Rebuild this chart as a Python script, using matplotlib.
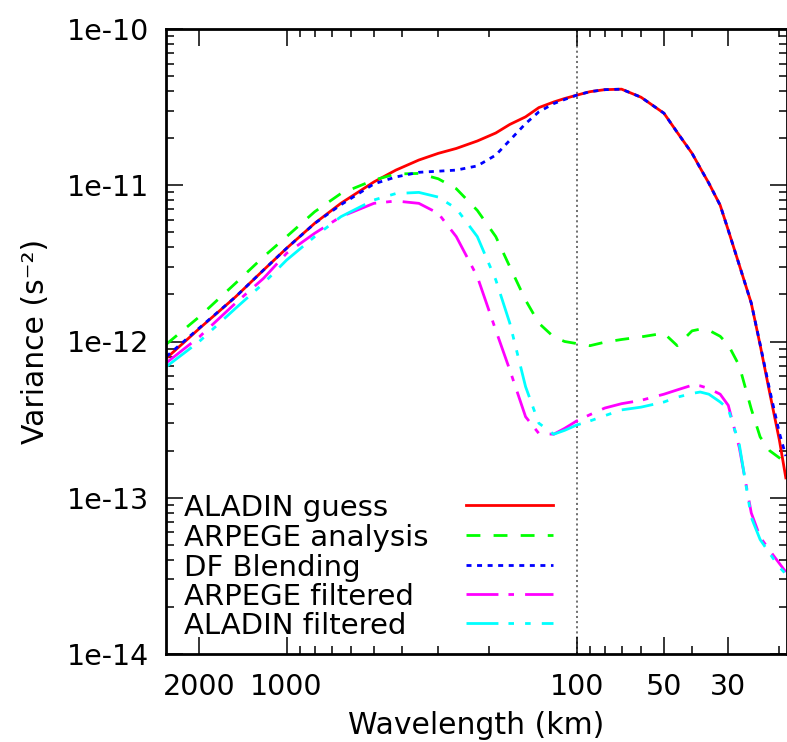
import matplotlib
matplotlib.use("Agg")
import matplotlib.pyplot as plt
from matplotlib.ticker import FixedLocator, FixedFormatter, LogLocator, NullFormatter

plt.rcParams['font.family'] = ['DejaVu Sans']
plt.rcParams['mathtext.default'] = 'regular'
plt.rcParams['lines.scale_dashes'] = False

# ---------------- data ----------------
wavelength = [2600, 2000, 1500, 1200, 1000, 800, 650, 500, 420, 350, 300, 260, 220,
              190, 170, 150, 135, 120, 110, 100, 90, 80, 70, 60, 50, 45, 40, 37.5,
              35, 32, 30, 27.5, 25, 23.3, 21.6, 20, 19]

aladin_guess = [7.8e-13, 1.21e-12, 1.93e-12, 2.87e-12, 3.95e-12, 5.71e-12, 7.66e-12,
                1.05e-11, 1.25e-11, 1.45e-11, 1.6e-11, 1.72e-11, 1.92e-11, 2.16e-11,
                2.45e-11, 2.74e-11, 3.14e-11, 3.41e-11, 3.59e-11, 3.77e-11, 3.97e-11,
                4.09e-11, 4.12e-11, 3.66e-11, 2.89e-11, 2.18e-11, 1.6e-11, 1.29e-11,
                1.03e-11, 7.45e-12, 5.15e-12, 3.09e-12, 1.76e-12, 9.5e-13, 4.7e-13,
                2.34e-13, 1.34e-13]

arpege_analysis = [9.6e-13, 1.44e-12, 2.36e-12, 3.49e-12, 4.69e-12, 6.77e-12, 8.85e-12,
                   1.08e-11, 1.18e-11, 1.19e-11, 1.1e-11, 9.5e-12, 6.9e-12, 4.69e-12,
                   3.01e-12, 1.84e-12, 1.31e-12, 1.07e-12, 1.0e-12, 9.7e-13, 9.4e-13,
                   9.9e-13, 1.03e-12, 1.07e-12, 1.13e-12, 9.4e-13, 1.17e-12, 1.2e-12,
                   1.18e-12, 1.08e-12, 9.5e-13, 7.0e-13, 3.7e-13, 2.45e-13, 2.0e-13,
                   1.8e-13, 1.67e-13]

df_blending = [8.0e-13, 1.22e-12, 1.93e-12, 2.87e-12, 3.95e-12, 5.7e-12, 7.5e-12,
               1.02e-11, 1.13e-11, 1.21e-11, 1.23e-11, 1.25e-11, 1.33e-11, 1.56e-11,
               1.94e-11, 2.48e-11, 2.95e-11, 3.33e-11, 3.54e-11, 3.77e-11, 3.97e-11,
               4.09e-11, 4.12e-11, 3.66e-11, 2.89e-11, 2.18e-11, 1.6e-11, 1.29e-11,
               1.03e-11, 7.45e-12, 5.15e-12, 3.09e-12, 1.76e-12, 9.6e-13, 4.9e-13,
               2.6e-13, 1.85e-13]

arpege_filtered = [7.3e-13, 1.07e-12, 1.76e-12, 2.54e-12, 3.67e-12, 4.93e-12, 6.29e-12,
                   7.66e-12, 7.93e-12, 7.66e-12, 6.61e-12, 4.69e-12, 2.6e-12, 1.18e-12,
                   6.57e-13, 3.3e-13, 2.58e-13, 2.55e-13, 2.78e-13, 3.1e-13, 3.4e-13,
                   3.75e-13, 4.0e-13, 4.2e-13, 4.6e-13, 4.9e-13, 5.25e-13, 5.2e-13,
                   5.0e-13, 4.6e-13, 3.9e-13, 2.1e-13, 8.0e-14, 5.6e-14, 4.6e-14,
                   3.8e-14, 3.35e-14]

aladin_filtered = [6.9e-13, 1.0e-12, 1.63e-12, 2.36e-12, 3.32e-12, 4.69e-12, 6.29e-12,
                   8.05e-12, 8.85e-12, 9.0e-12, 8.4e-12, 7.1e-12, 4.69e-12, 2.48e-12,
                   1.31e-12, 5.14e-13, 3.0e-13, 2.55e-13, 2.7e-13, 2.92e-13, 3.1e-13,
                   3.35e-13, 3.65e-13, 3.8e-13, 4.1e-13, 4.4e-13, 4.65e-13, 4.75e-13,
                   4.6e-13, 4.1e-13, 3.7e-13, 2.2e-13, 7.5e-14, 5.4e-14, 4.4e-14,
                   3.6e-14, 3.25e-14]

series_labels = ["ALADIN guess", "ARPEGE analysis", "DF Blending",
                 "ARPEGE filtered", "ALADIN filtered"]
xtick_values = [2000, 1000, 100, 50, 30]
xtick_labels = ["2000", "1000", "100", "50", "30"]
ytick_values = [1e-14, 1e-13, 1e-12, 1e-11, 1e-10]
ytick_labels = ["1e-14", "1e-13", "1e-12", "1e-11", "1e-10"]
ref_wavelength = 100

# ---------------- styles ----------------
styles = [
    dict(color="#ff0000", linestyle="-"),
    dict(color="#00ff00", linestyle=(0, (10, 9.5))),
    dict(color="#0000ff", linestyle=(0, (3.6, 4.0))),
    dict(color="#ff00ff", linestyle=(0, (23, 7.2, 4, 8))),
    dict(color="#00ffff", linestyle=(0, (23, 7.2, 4, 8, 4, 8))),
]
LW = 2.0

fig = plt.figure(figsize=(7.87, 7.42), dpi=100)
ax = fig.add_axes([166 / 787, (742 - 654) / 742, (786.5 - 166) / 787, (654 - 29) / 742])

all_series = [aladin_guess, arpege_analysis, df_blending, arpege_filtered, aladin_filtered]
for ys, st in zip(all_series, styles):
    ax.plot(wavelength, ys, lw=LW, solid_joinstyle="round", **st)

ax.axvline(ref_wavelength, color="#707070", linestyle=(0, (1.5, 2.2)), lw=1.4, zorder=0)

ax.set_xscale("log")
ax.set_yscale("log")
ax.set_xlim(2605, 18.9)
ax.set_ylim(1e-14, 1e-10)

ax.xaxis.set_major_locator(FixedLocator(xtick_values))
ax.xaxis.set_major_formatter(FixedFormatter(xtick_labels))
ax.xaxis.set_minor_locator(LogLocator(base=10, subs=[2, 3, 4, 5, 6, 7, 8, 9], numticks=20))
ax.xaxis.set_minor_formatter(NullFormatter())
ax.yaxis.set_major_locator(FixedLocator(ytick_values))
ax.yaxis.set_major_formatter(FixedFormatter(ytick_labels))
ax.yaxis.set_minor_locator(LogLocator(base=10, subs=[2, 3, 4, 5, 6, 7, 8, 9], numticks=20))
ax.yaxis.set_minor_formatter(NullFormatter())

ax.tick_params(which="both", direction="in", top=True, right=True, width=1.1, color="black")
ax.tick_params(which="major", length=12)
ax.tick_params(which="minor", length=6)
ax.tick_params(axis="x", which="major", labelsize=20.5, pad=14)
ax.tick_params(axis="y", which="major", labelsize=20.5, pad=12)
for sp in ax.spines.values():
    sp.set_linewidth(2.0)

ax.set_xlabel("Wavelength (km)", fontsize=21.5, labelpad=7)
ax.set_ylabel("Variance (s\u207b\u00b2)", fontsize=21.5, labelpad=12)

# legend (gnuplot style: text left, sample on right)
row_y = [0.2384, 0.1904, 0.1424, 0.0960, 0.0496]
for lab, st, yy in zip(series_labels, styles, row_y):
    ax.text(0.029, yy - 0.0176, lab, transform=ax.transAxes, fontsize=21,
            ha="left", va="baseline")
    ax.plot([0.4835, 0.6237], [yy, yy], transform=ax.transAxes, lw=LW, **st)

fig.savefig("out.png", dpi=100)
